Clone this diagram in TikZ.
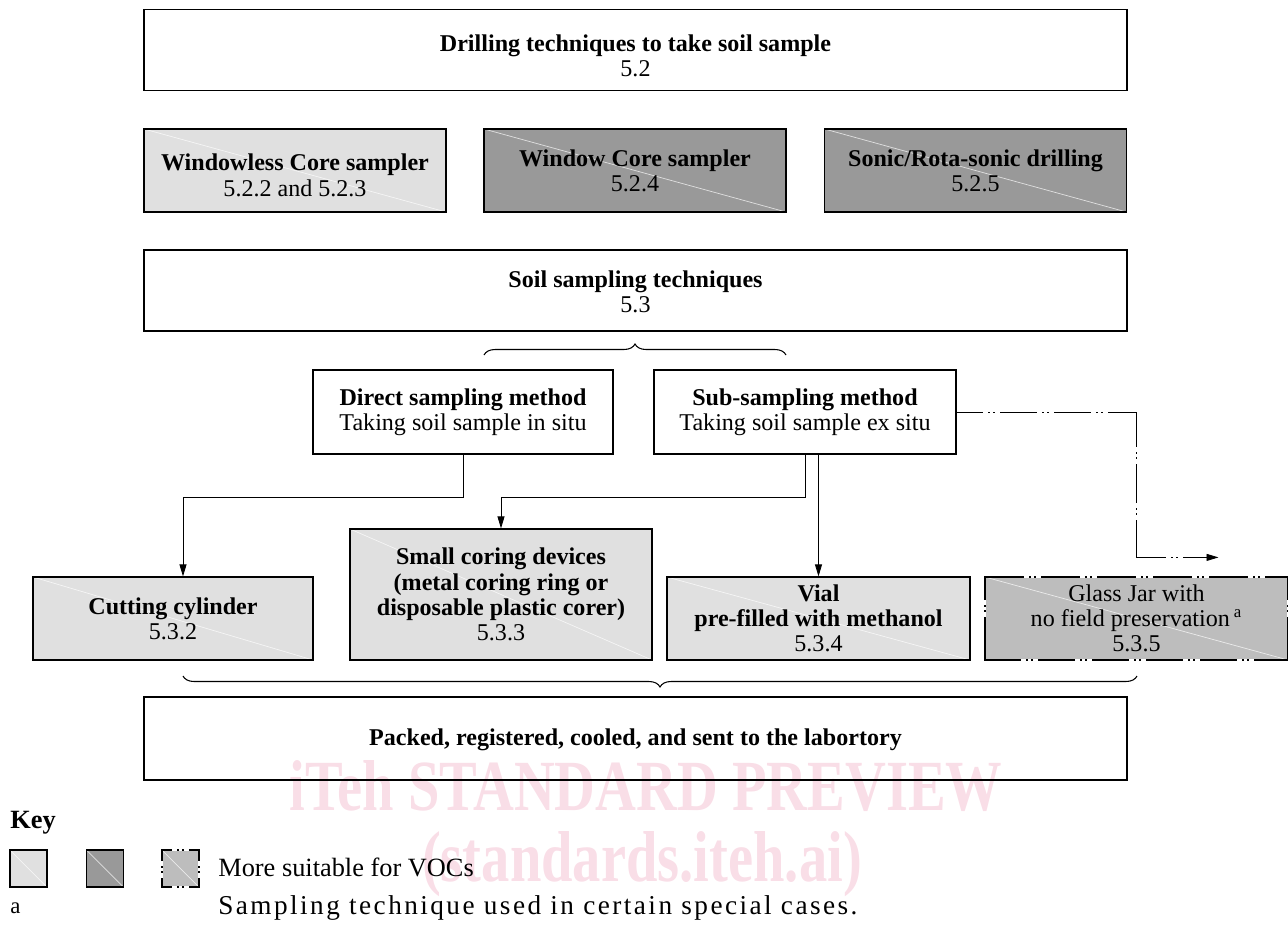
\documentclass[tikz,border=0pt]{standalone}
\usepackage{fontspec}
\setmainfont{Liberation Serif}
\usepackage{xcolor}
\usetikzlibrary{arrows.meta, positioning, decorations.pathreplacing}

\definecolor{lightfill}{gray}{0.88}
\definecolor{darkfill}{gray}{0.6}
\definecolor{midfill}{gray}{0.74}
\definecolor{wmpink}{RGB}{249,222,231}
\newcommand{\boxfont}{\fontsize{13.7}{14.4}\selectfont}
\newcommand{\keyfont}{\fontsize{15}{17}\selectfont}
% breaks of the dash-dot-dot lines
\newcommand{\hgap}[2]{\draw[gapw] (#1,#2) -- ++(5,0) ++(2,0) -- ++(3,0) ++(2,0) -- ++(5,0);}
\newcommand{\vgap}[2]{\draw[gapw] (#1,#2) -- ++(0,5) ++(0,2) -- ++(0,3) ++(0,2) -- ++(0,5);}

\begin{document}
\begin{tikzpicture}[x=0.02cm, y=-0.02cm,
  box/.style={draw, line width=0.7pt, align=center, font=\boxfont, inner sep=1pt},
  wide/.style={box, minimum width=19.66cm, minimum height=1.62cm},
  cell/.style={minimum width=6.04cm, minimum height=1.66cm},
  diag/.style={path picture={\draw[white, line width=0.4pt, opacity=0.7]
      (path picture bounding box.north west) -- (path picture bounding box.south east);}},
  gapw/.style={white, line width=1.3pt, line cap=butt},
  light/.style={box, fill=lightfill, diag},
  dark/.style={box, fill=darkfill, diag},
  jar/.style={box, fill=midfill, diag},
  conn/.style={line width=0.5pt, -{Triangle[length=0.24cm, width=0.14cm]}},
  brc/.style={decorate, decoration={brace, amplitude=0.22cm}, line width=0.6pt},
  keysq/.style={minimum width=0.74cm, minimum height=0.74cm, inner sep=0pt},
]
\useasboundingbox (0,0) rectangle (1288,931);

% watermark
\node[text=wmpink, font=\fontsize{41}{41}\bfseries\selectfont, xscale=0.785] (wm1) at (646,786) {iTeh STANDARD PREVIEW};
\node[text=wmpink, font=\fontsize{41}{41}\bfseries\selectfont, xscale=0.785] (wm2) at (642,864) {(standards.iteh.ai)};

% drilling
\node[wide] (drill) at (635.5,50) {\rule{0pt}{0.57cm}\textbf{Drilling techniques to take soil sample}\\5.2};
\node[light, cell] (windowless) at (295,170.5) {\rule{0pt}{0.53cm}\textbf{Windowless Core sampler}\\5.2.2 and 5.2.3};
\node[dark, cell] (window) at (635,170.5) {\textbf{Window Core sampler}\\5.2.4};
\node[dark, cell] (sonic) at (975.5,170.5) {\textbf{Sonic/Rota-sonic drilling}\\5.2.5};

% sampling
\node[wide] (soil) at (635.5,290.5) {\rule{0pt}{0.4cm}\textbf{Soil sampling techniques}\\5.3};
\node[box, minimum width=6cm, minimum height=1.68cm] (direct) at (463,412) {\textbf{Direct sampling method}\\Taking soil sample in situ};
\node[box, minimum width=6.04cm, minimum height=1.68cm] (sub) at (805,412) {\textbf{Sub-sampling method}\\Taking soil sample ex situ};

% containers
\node[light, minimum width=5.6cm, minimum height=1.66cm] (cutting) at (173,618.5) {\textbf{Cutting cylinder}\\5.3.2};
\node[light, minimum width=6.04cm, minimum height=2.62cm] (coring) at (501,594.5) {\textbf{Small coring devices}\\\textbf{(metal coring ring or}\\\textbf{disposable plastic corer)}\\5.3.3};
\node[light, minimum width=6.06cm, minimum height=1.66cm] (vial) at (818.5,618.5) {\textbf{Vial}\\\textbf{pre-filled with methanol}\\5.3.4};
\node[jar, minimum width=6.06cm, minimum height=1.66cm] (glass) at (1136.5,618.5) {Glass Jar with\\no field preservation\,\textsuperscript{a}\\5.3.5};
\foreach \gx in {1024,1080,1136,1192,1248} {\hgap{\gx}{577}}
\foreach \gx in {1021,1075,1129,1183,1237} {\hgap{\gx}{660}}
\vgap{985}{600}
\vgap{1288}{600}

\node[wide, minimum height=1.66cm] (lab) at (635.5,738.5) {\rule{0pt}{0.4cm}\textbf{Packed, registered, cooled, and sent to the labortory}};

% braces
\draw[brc] (484,355) -- (786,355);
\draw[brc] (1137,676) -- (183,676);

% arrows
\draw[conn] (direct.south) -- ++(0,43) -| ([xshift=0.2cm]cutting.north);
\draw[conn] (sub.south) -- ++(0,43) -| (coring.north);
\draw[conn] (sub.south -| vial.north) -- (vial.north);
\coordinate (jarbend) at ([yshift=0.38cm]glass.north);
\draw[conn] (sub.east) -| (jarbend) -- ++(82,0);
\foreach \gx in {983,1037,1091} {\hgap{\gx}{412}}
\foreach \gy in {447,503} {\vgap{1136}{\gy}}
\hgap{1166}{558}

% key
\node[font=\keyfont\bfseries, anchor=base west, inner sep=0pt] (keyhead) at (10,828) {Key};
\node[light, keysq] (keylight) at (28.5,868.5) {};
\node[dark, keysq] (keydark) at (105,868.5) {};
\node[jar, keysq] (keyjar) at (180.5,868.5) {};
\hgap{172}{850} \hgap{172}{887} \vgap{162}{861} \vgap{199}{861}
\node[font=\keyfont, anchor=base west, inner sep=0pt] (keytext) at (218,876) {More suitable for VOCs};
\node[font=\fontsize{13}{15}\selectfont, anchor=base west, inner sep=0pt] (keya) at (10,913) {a};
\node[font=\fontsize{15.5}{17}\selectfont\addfontfeature{LetterSpace=9}, anchor=base west, inner sep=0pt] (keynote) at (218,914) {Sampling technique used in certain special cases.};

\end{tikzpicture}
\end{document}
